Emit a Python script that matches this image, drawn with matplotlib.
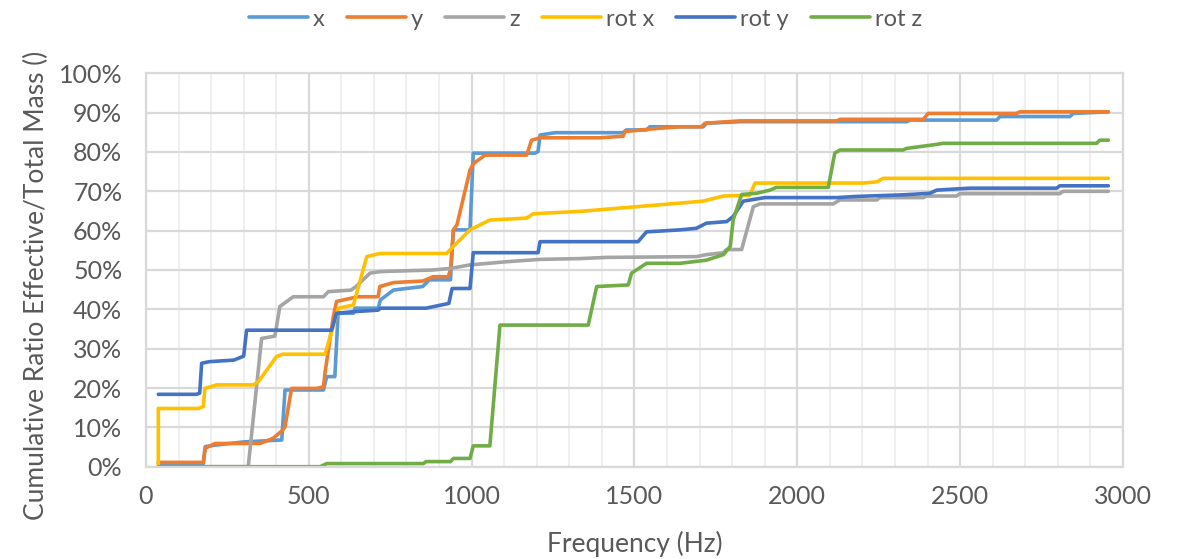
import matplotlib
matplotlib.use("Agg")
import matplotlib.pyplot as plt
from matplotlib.ticker import MultipleLocator, PercentFormatter

plt.rcParams['font.family'] = ['Lato', 'DejaVu Sans']

# cumulative effective mass ratio (%) vs frequency (Hz) for each direction
x_freq = [38, 176, 182, 215, 300, 417, 427, 545, 555, 580, 590, 637, 642, 713, 720, 760, 850, 870,
          935, 944, 995, 1005, 1194, 1204, 1210, 1256, 1465, 1475, 1537, 1547, 1711, 1721, 1824,
          2121, 2336, 2346, 2612, 2622, 2837, 2847, 2955]
x_mass = [0.8, 0.8, 5.1, 5.5, 6.3, 6.8, 19.5, 19.5, 22.9, 22.9, 39.0, 39.0, 40.3, 40.3, 42.4, 44.9,
          45.8, 47.5, 47.5, 60.2, 60.2, 79.7, 79.7, 80.1, 84.3, 84.9, 84.9, 85.6, 85.6, 86.4, 86.4,
          87.3, 87.7, 87.7, 87.7, 88.1, 88.1, 89.0, 89.0, 89.8, 90.2]

y_freq = [38, 176, 182, 212, 350, 390, 420, 427, 447, 524, 545, 550, 575, 585, 650, 713, 718, 760,
          850, 882, 928, 935, 944, 955, 995, 1005, 1041, 1169, 1184, 1210, 1394, 1465, 1471, 1558,
          1640, 1706, 1716, 1824, 2121, 2131, 2387, 2402, 2673, 2683, 2955]
y_mass = [1.1, 1.1, 4.7, 5.9, 5.9, 7.2, 9.3, 10.2, 19.9, 19.9, 20.3, 24.0, 38.0, 42.0, 43.2, 43.2,
          45.8, 46.8, 47.2, 48.3, 48.3, 50.0, 60.2, 61.5, 75.4, 77.0, 79.2, 79.2, 83.0, 83.6, 83.6,
          84.0, 85.2, 85.9, 86.4, 86.4, 87.3, 87.9, 87.9, 88.3, 88.3, 89.8, 89.8, 90.2, 90.2]

z_freq = [38, 314, 355, 396, 411, 452, 545, 560, 630, 645, 688, 720, 880, 935, 995, 1107, 1210,
          1333, 1414, 1690, 1721, 1773, 1783, 1829, 1865, 1885, 2110, 2131, 2244, 2254, 2387, 2397,
          2489, 2499, 2806, 2816, 2955]
z_mass = [0, 0, 32.6, 33.2, 40.7, 43.2, 43.2, 44.5, 44.9, 45.8, 49.2, 49.6, 50.0, 50.4, 51.3, 52.1,
          52.7, 52.9, 53.2, 53.4, 53.9, 54.4, 55.2, 55.2, 66.1, 66.8, 66.8, 67.8, 67.8, 68.4, 68.4,
          68.8, 68.8, 69.4, 69.4, 70.0, 70.0]

rotx_freq = [38, 38, 161, 176, 181, 217, 330, 345, 401, 420, 550, 591, 637, 678, 718, 923, 938,
             995, 1056, 1169, 1189, 1333, 1465, 1537, 1640, 1711, 1773, 1854, 1870, 2202, 2244,
             2264, 2955]
rotx_mass = [0, 14.8, 14.8, 15.3, 19.9, 20.8, 20.8, 21.6, 28.0, 28.6, 28.6, 40.3, 41.1, 53.4, 54.2,
             54.2, 55.5, 60.2, 62.7, 63.2, 64.3, 64.9, 65.8, 66.3, 67.0, 67.5, 68.8, 69.0, 72.1,
             72.1, 72.4, 73.3, 73.3]

roty_freq = [38, 155, 165, 171, 195, 270, 300, 309, 570, 585, 637, 713, 720, 860, 930, 940, 995,
             1005, 1204, 1210, 1511, 1537, 1640, 1690, 1721, 1783, 1803, 1834, 1900, 2121, 2182,
             2325, 2407, 2428, 2530, 2796, 2806, 2955]
roty_mass = [18.4, 18.4, 18.7, 26.3, 26.7, 27.1, 28.1, 34.7, 34.7, 39.0, 39.4, 39.8, 40.3, 40.3,
             41.5, 45.3, 45.3, 54.4, 54.4, 57.2, 57.2, 59.7, 60.2, 60.6, 61.9, 62.3, 63.6, 67.5,
             68.4, 68.4, 68.7, 69.1, 69.5, 70.3, 70.8, 70.8, 71.4, 71.4]

rotz_freq = [38, 535, 555, 852, 860, 935, 944, 995, 1005, 1056, 1087, 1358, 1384, 1481, 1491, 1537,
             1640, 1721, 1773, 1794, 1803, 1829, 1875, 1916, 1936, 2095, 2115, 2131, 2325, 2335,
             2417, 2448, 2919, 2929, 2955]
rotz_mass = [0, 0, 0.8, 0.8, 1.3, 1.3, 2.1, 2.1, 5.3, 5.3, 36.0, 36.0, 45.8, 46.2, 49.2, 51.7, 51.7,
             52.5, 53.9, 56.0, 62.7, 69.2, 69.5, 70.3, 71.0, 71.0, 79.7, 80.5, 80.5, 80.9, 81.8,
             82.2, 82.2, 83.0, 83.0]

labels = ['x', 'y', 'z', 'rot x', 'rot y', 'rot z']
colors = ['#5B9BD5', '#ED7D31', '#A5A5A5', '#FFC000', '#4472C4', '#70AD47']
series = [(x_freq, x_mass), (y_freq, y_mass), (z_freq, z_mass),
          (rotx_freq, rotx_mass), (roty_freq, roty_mass), (rotz_freq, rotz_mass)]

text_color = '#595959'

fig = plt.figure(figsize=(11.78, 5.59), dpi=100)
ax = fig.add_axes([0.1239, 0.1651, 0.8294, 0.7038])

for (f, m), lab, col in zip(series, labels, colors):
    ax.plot(f, m, color=col, lw=2.6, label=lab, solid_joinstyle='round', solid_capstyle='round')

ax.set_xlim(0, 3000)
ax.set_ylim(0, 100)
ax.xaxis.set_major_locator(MultipleLocator(500))
ax.xaxis.set_minor_locator(MultipleLocator(100))
ax.yaxis.set_major_locator(MultipleLocator(10))
ax.yaxis.set_major_formatter(PercentFormatter(decimals=0))

ax.grid(which='major', color='#D9D9D9', lw=1.6)
ax.grid(which='minor', axis='x', color='#EFEFEF', lw=1.4)
ax.set_axisbelow(True)
for s in ax.spines.values():
    s.set_color('#D9D9D9')
    s.set_linewidth(1.6)

ax.tick_params(which='both', length=0, colors=text_color, labelsize=18)
ax.tick_params(axis='x', pad=13)
ax.tick_params(axis='y', pad=17)

ax.set_xlabel('Frequency (Hz)', fontsize=19, color=text_color, labelpad=17)
ax.set_ylabel('Cumulative Ratio Effective/Total Mass ()', fontsize=19, color=text_color)
ax.yaxis.set_label_coords(-0.1116, 0.462)
ax.yaxis.label.set_va('center')

fig.legend(loc='center', bbox_to_anchor=(0.497, 0.966), ncol=6, frameon=False, fontsize=17,
           handlelength=2.5, handletextpad=0.2, columnspacing=0.95, labelcolor=text_color)

fig.savefig('out.png', dpi=100)
